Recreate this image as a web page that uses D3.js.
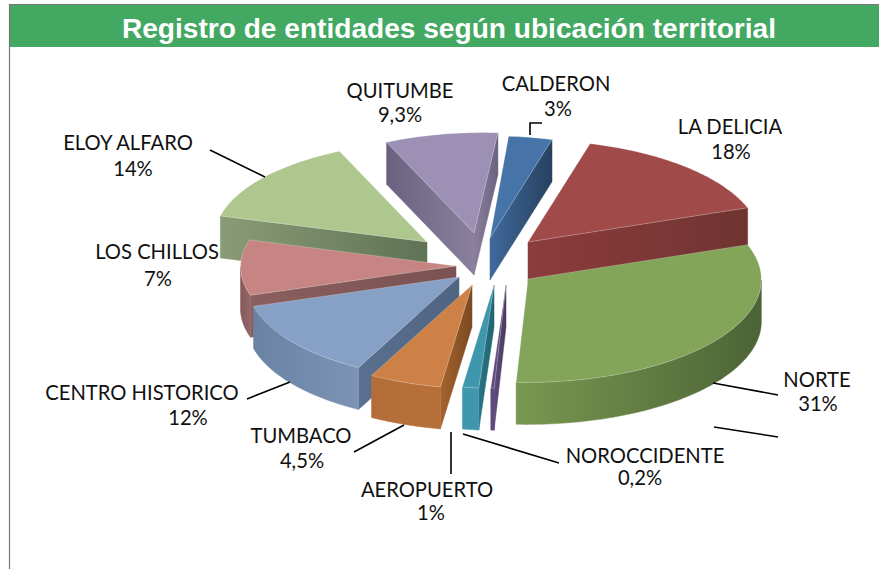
<!DOCTYPE html>
<html>
<head>
<meta charset="utf-8">
<script src="https://cdn.jsdelivr.net/npm/d3@7"></script>
<style>
html, body { margin: 0; padding: 0; background: #fff; }
svg { display: block; }
</style>
</head>
<body>
<svg width="879" height="569"></svg>
<script>
var chartTitle = "Registro de entidades según ubicación territorial";

// clockwise from the slice that sits at 12 o'clock
var categories = ["CALDERON", "LA DELICIA", "NORTE", "NOROCCIDENTE", "AEROPUERTO", "TUMBACO", "CENTRO HISTORICO", "LOS CHILLOS", "ELOY ALFARO", "QUITUMBE"];
var percents = [3, 18, 31, 0.2, 1, 4.5, 12, 7, 14, 9.3];

var topColors = ["#4674a8", "#a04b4a", "#82a55a", "#604a7b", "#3f97ae", "#ce8146", "#87a1c6", "#c68583", "#aec78f", "#9c90b5"];
var rimFront = ["#3f6a9c", "#8c3c3c", "#77964f", "#5c4a7c", "#3f97ae", "#b8703a", "#7c93b4", "#94686a", "#8a9c76", "#8a809e"];
var rimSide = ["#28415f", "#6f3431", "#4c6436", "#5c4a7c", "#3f97ae", "#b46d38", "#6a83a4", "#85595a", "#5f7254", "#6a6280"];
var cutApex = ["#3f6a9c", "#8c3c3c", "#4c6436", "#4a3a60", "#1f6472", "#7a4a20", "#4f6480", "#7a5252", "#5f7254", "#8a809e"];
var cutOuter = ["#28415f", "#6f3431", "#4c6436", "#5c4a7c", "#2a7485", "#a5632f", "#5a7090", "#8a5f5e", "#8a9c76", "#6a6280"];

// apex of each slice after it was pulled out of the pie
var apexX = [490, 528, 528, 506, 494, 472, 459, 456, 427, 474];
var apexY = [238, 242, 279, 285, 285, 285, 277, 266, 242, 233];

// the 3d view squeezes the pie unevenly, these knots follow it
var viewAngleIn = [4.6, 15.4, 80.2, 191.8, 212.3, 255.5, 280.7, 331.1, 364.6];
var viewAngleOut = [4.6, 15.5, 70.5, 182.9, 206, 252, 286, 337, 366];
var viewRadius = [232, 232, 233, 235, 229, 216, 215, 224, 229];

var labelX = [556, 730, 817, 645, 427, 301, 142, 157, 128, 400];
var labelY = [91, 134, 387, 463, 497, 443, 400, 259, 150, 98];
var valueX = [558, 731, 818, 640, 431, 302, 188, 158, 133, 400];
var valueY = [116, 159, 411, 485, 520, 468, 425, 286, 176, 122];

var leaders = [
    [[530, 135], [530, 123], [542, 123]],
    [[210, 150], [265, 177]],
    [[247, 399], [290, 382]],
    [[354, 452], [404, 425]],
    [[451, 432], [451, 474]],
    [[463, 434], [559, 463]],
    [[713, 383], [778, 395]],
    [[714, 427], [778, 437]]
];

var depth = 42, tilt = 0.44;
var svg = d3.select("svg");
var defs = svg.append("defs");

var toView = d3.scaleLinear().domain(viewAngleIn).range(viewAngleOut);
var radiusAt = d3.scaleLinear().domain(viewAngleIn).range(viewRadius);

var pie = d3.pie().sort(null)
    .startAngle(4.6 * Math.PI / 180)
    .endAngle(364.6 * Math.PI / 180);

var slices = pie(percents).map(function (d, i) {
    return {
        i: i,
        a0: d.startAngle * 180 / Math.PI,
        a1: d.endAngle * 180 / Math.PI,
        x: apexX[i],
        y: apexY[i]
    };
});

function viewRad(deg) {
    return toView(deg) * Math.PI / 180;
}

function pointAt(s, deg, dy) {
    var r = radiusAt(deg), a = viewRad(deg);
    return [s.x + r * Math.sin(a), s.y - r * tilt * Math.cos(a) + (dy || 0)];
}

var gradCount = 0;
function shade(c1, c2, x1, x2) {
    var id = "grad" + (gradCount++);
    var g = defs.append("linearGradient").attr("id", id)
        .attr("gradientUnits", "userSpaceOnUse")
        .attr("x1", x1).attr("x2", x2).attr("y1", 0).attr("y2", 0);
    g.append("stop").attr("offset", "0%").attr("stop-color", c1);
    g.append("stop").attr("offset", "100%").attr("stop-color", c2);
    return "url(#" + id + ")";
}

var line = d3.line();

function face(g, pts, fill) {
    g.append("path").attr("d", line(pts) + "Z").attr("fill", fill).attr("stroke", fill).attr("stroke-width", 0.5);
}

function cutFace(g, s, deg) {
    var p = pointAt(s, deg);
    face(g, [[s.x, s.y], p, [p[0], p[1] + depth], [s.x, s.y + depth]], shade(cutApex[s.i], cutOuter[s.i], s.x, p[0]));
}

function drawSlice(s) {
    var g = svg.append("g").attr("class", "slice"),
        i = s.i,
        steps = d3.range(s.a0, s.a1, 1).concat([s.a1]);

    // cut faces that look at the viewer
    if (Math.sin(viewRad(s.a0)) < 0) cutFace(g, s, s.a0);
    if (Math.sin(viewRad(s.a1)) > 0) cutFace(g, s, s.a1);

    // outer wall, only the front part of the rim
    var front = steps.filter(function (d) { return Math.cos(viewRad(d)) < 0; });
    if (front.length > 1) {
        var rim = front.map(function (d) { return pointAt(s, d); });
        var bottom = front.map(function (d) { return pointAt(s, d, depth); }).reverse();
        // lightest on the part of the rim nearest the viewer
        var near = d3.greatest(rim, function (p) { return p[1]; });
        var far = d3.least(rim, function (p) { return p[1]; });
        face(g, rim.concat(bottom), shade(rimFront[i], rimSide[i], near[0], far[0]));
    }

    var outline = steps.map(function (d) { return pointAt(s, d); });
    g.append("path").attr("d", line([[s.x, s.y]].concat(outline)) + "Z")
        .attr("fill", topColors[i])
        .attr("stroke", "#fff").attr("stroke-opacity", 0.3).attr("stroke-width", 0.8);
}

// back slices first, the ones nearest the viewer last
[8, 9, 0, 1, 7, 6, 2, 5, 4, 3].forEach(function (i) { drawSlice(slices[i]); });

// title band and frame
svg.append("rect").attr("x", 10).attr("y", 5).attr("width", 869).attr("height", 42).attr("fill", "#43a862");
svg.append("path").attr("d", "M9.5,569V4.5H879").attr("fill", "none").attr("stroke", "#777").attr("stroke-width", 1.2);
svg.append("text").attr("x", 449).attr("y", 38).attr("text-anchor", "middle")
    .attr("font-family", "Liberation Sans").attr("font-weight", "bold").attr("font-size", 28.1)
    .attr("fill", "#fff").text(chartTitle);

// leader lines
svg.selectAll("path.leader").data(leaders).enter().append("path")
    .attr("class", "leader")
    .attr("d", function (d) { return line(d); })
    .attr("fill", "none").attr("stroke", "#000").attr("stroke-width", 1.6);

// labels
var label = svg.selectAll("g.label").data(categories).enter().append("g").attr("class", "label")
    .attr("font-family", "Lato").attr("font-size", 20.2).attr("fill", "#111").attr("text-anchor", "middle");
label.append("text")
    .attr("x", function (d, i) { return labelX[i]; })
    .attr("y", function (d, i) { return labelY[i]; })
    .text(function (d) { return d; });
label.append("text")
    .attr("x", function (d, i) { return valueX[i]; })
    .attr("y", function (d, i) { return valueY[i]; })
    .text(function (d, i) { return String(percents[i]).replace(".", ",") + "%"; });
</script>
</body>
</html>
